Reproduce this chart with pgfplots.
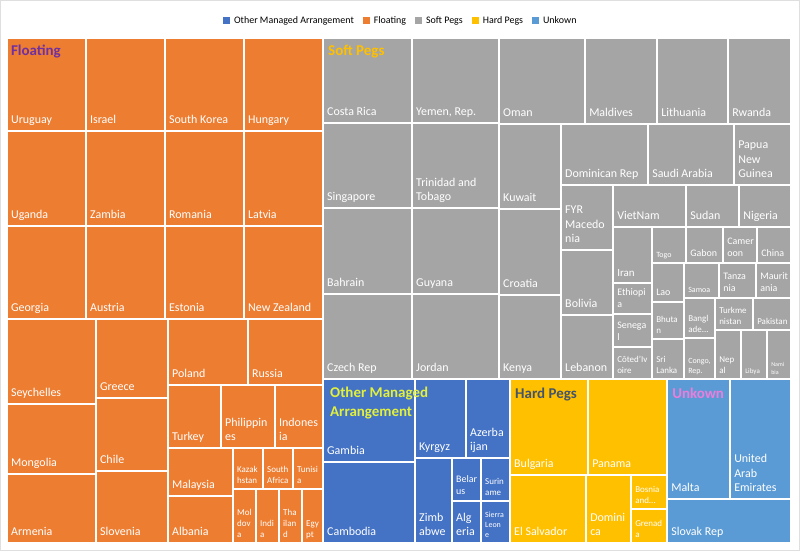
\documentclass[border=0pt]{standalone}
\usepackage{pgfplots}
\pgfplotsset{compat=1.18}
\usepackage{fontspec}
\setmainfont{Carlito}
\definecolor{cFl}{RGB}{237,125,49}
\definecolor{cSp}{RGB}{165,165,165}
\definecolor{cOm}{RGB}{68,114,196}
\definecolor{cHp}{RGB}{255,192,0}
\definecolor{cUk}{RGB}{91,155,213}
\definecolor{tFl}{RGB}{112,48,160}
\definecolor{tSp}{RGB}{255,192,0}
\definecolor{tOm}{RGB}{226,240,60}
\definecolor{tHp}{RGB}{68,84,106}
\definecolor{tUk}{RGB}{236,125,220}
\tikzset{
  f12/.style={font=\fontsize{12}{14.6}\selectfont},
  f11/.style={font=\fontsize{11}{13.4}\selectfont},
  f10/.style={font=\fontsize{10}{12.2}\selectfont},
  f9/.style={font=\fontsize{9}{11}\selectfont},
  f8/.style={font=\fontsize{8}{9.8}\selectfont},
  f7/.style={font=\fontsize{7}{8.5}\selectfont},
  f6/.style={font=\fontsize{6}{7.3}\selectfont},
  ttl/.style={anchor=base west, inner sep=0pt, font=\bfseries\fontsize{15}{18}\selectfont},
}
% color, x0, y0, x1, y1, font style, label
\newcommand{\cell}[7]{%
  \addplot[fill=#1, draw=white, line width=2bp, forget plot] coordinates {(#2,#3) (#4,#3) (#4,#5) (#2,#5)} -- cycle;
  \node[anchor=south west, inner sep=0pt, xshift=4bp, yshift=2.5bp, text=white, align=left, #6] at (axis cs:#2,#5) {#7\strut};
}
\begin{document}
\begin{tikzpicture}
\begin{axis}[
  width=800bp, height=551bp, scale only axis,
  xmin=0, xmax=800, ymin=0, ymax=551, y dir=reverse,
  hide axis, clip=false,
  legend image code/.code={\path[#1, draw=none] (0bp,-3.5bp) rectangle (7bp,3.5bp); \path[draw=none, fill=none] (0bp,0bp) -- (9bp,0bp);},
  legend style={at={(0.501,0.962)}, anchor=center, draw=none, fill=none,
    legend columns=-1, font=\fontsize{10}{12}\selectfont,
    /tikz/every even column/.append style={column sep=7bp}},
]
\addplot[fill=white, draw=gray!25, line width=0.8bp, forget plot] coordinates {(0.5,0.5) (799.5,0.5) (799.5,550.5) (0.5,550.5)} -- cycle;
\addlegendimage{fill=cOm}\addlegendentry{Other Managed Arrangement}
\addlegendimage{fill=cFl}\addlegendentry{Floating}
\addlegendimage{fill=cSp}\addlegendentry{Soft Pegs}
\addlegendimage{fill=cHp}\addlegendentry{Hard Pegs}
\addlegendimage{fill=cUk}\addlegendentry{Unkown}
% Floating
\cell{cFl}{7}{38}{86}{131}{f12}{Uruguay}
\cell{cFl}{86}{38}{165}{131}{f12}{Israel}
\cell{cFl}{165}{38}{244}{131}{f12}{South Korea}
\cell{cFl}{244}{38}{323}{131}{f12}{Hungary}
\cell{cFl}{7}{131}{86}{226}{f12}{Uganda}
\cell{cFl}{86}{131}{165}{226}{f12}{Zambia}
\cell{cFl}{165}{131}{244}{226}{f12}{Romania}
\cell{cFl}{244}{131}{323}{226}{f12}{Latvia}
\cell{cFl}{7}{226}{86}{319}{f12}{Georgia}
\cell{cFl}{86}{226}{165}{319}{f12}{Austria}
\cell{cFl}{165}{226}{244}{319}{f12}{Estonia}
\cell{cFl}{244}{226}{323}{319}{f12}{New Zealand}
\cell{cFl}{7}{319}{96}{404}{f12}{Seychelles}
\cell{cFl}{7}{404}{96}{474}{f12}{Mongolia}
\cell{cFl}{7}{474}{96}{543}{f12}{Armenia}
\cell{cFl}{96}{319}{168}{398}{f12}{Greece}
\cell{cFl}{96}{398}{168}{471}{f12}{Chile}
\cell{cFl}{96}{471}{168}{543}{f12}{Slovenia}
\cell{cFl}{168}{319}{248}{385}{f12}{Poland}
\cell{cFl}{248}{319}{323}{385}{f12}{Russia}
\cell{cFl}{168}{385}{221}{448}{f12}{Turkey}
\cell{cFl}{221}{385}{275}{448}{f12}{Philippin\\es}
\cell{cFl}{275}{385}{323}{448}{f12}{Indones\\ia}
\cell{cFl}{168}{448}{233}{496}{f12}{Malaysia}
\cell{cFl}{168}{496}{233}{543}{f12}{Albania}
\cell{cFl}{233}{448}{263}{489}{f9}{Kazak\\hstan}
\cell{cFl}{263}{448}{293}{489}{f9}{South\\Africa}
\cell{cFl}{293}{448}{323}{489}{f9}{Tunisi\\a}
\cell{cFl}{233}{489}{256}{543}{f9}{Mol\\dov\\a}
\cell{cFl}{256}{489}{279}{543}{f9}{Indi\\a}
\cell{cFl}{279}{489}{302}{543}{f9}{Tha\\ilan\\d}
\cell{cFl}{302}{489}{323}{543}{f9}{Egy\\pt}
% Soft Pegs
\cell{cSp}{323}{38}{412}{123}{f12}{Costa Rica}
\cell{cSp}{412}{38}{499}{123}{f12}{Yemen, Rep.}
\cell{cSp}{323}{123}{412}{208}{f12}{Singapore}
\cell{cSp}{412}{123}{499}{208}{f12}{Trinidad and\\Tobago}
\cell{cSp}{323}{208}{412}{294}{f12}{Bahrain}
\cell{cSp}{412}{208}{499}{294}{f12}{Guyana}
\cell{cSp}{323}{294}{412}{379}{f12}{Czech Rep}
\cell{cSp}{412}{294}{499}{379}{f12}{Jordan}
\cell{cSp}{499}{38}{585}{124}{f12}{Oman}
\cell{cSp}{585}{38}{657}{124}{f12}{Maldives}
\cell{cSp}{657}{38}{728}{124}{f12}{Lithuania}
\cell{cSp}{728}{38}{791}{124}{f12}{Rwanda}
\cell{cSp}{499}{124}{561}{209}{f12}{Kuwait}
\cell{cSp}{499}{209}{561}{295}{f12}{Croatia}
\cell{cSp}{499}{295}{561}{379}{f12}{Kenya}
\cell{cSp}{561}{124}{648}{185}{f12}{Dominican Rep}
\cell{cSp}{648}{124}{734}{185}{f12}{Saudi Arabia}
\cell{cSp}{734}{124}{791}{185}{f12}{Papua\\New\\Guinea}
\cell{cSp}{561}{185}{613}{250}{f12}{FYR\\Macedo\\nia}
\cell{cSp}{561}{250}{613}{315}{f12}{Bolivia}
\cell{cSp}{561}{315}{613}{379}{f12}{Lebanon}
\cell{cSp}{613}{185}{686}{227}{f12}{VietNam}
\cell{cSp}{686}{185}{739}{227}{f12}{Sudan}
\cell{cSp}{739}{185}{791}{227}{f12}{Nigeria}
\cell{cSp}{613}{227}{652}{283}{f11}{Iran}
\cell{cSp}{613}{283}{652}{314}{f10}{Ethiopi\\a}
\cell{cSp}{613}{314}{652}{347}{f10}{Senega\\l}
\cell{cSp}{613}{347}{652}{379}{f9}{Côted'Iv\\oire}
\cell{cSp}{652}{227}{686}{263}{f8}{Togo}
\cell{cSp}{652}{263}{684}{302}{f10}{Lao}
\cell{cSp}{652}{302}{684}{339}{f9}{Bhuta\\n}
\cell{cSp}{652}{339}{684}{379}{f9}{Sri\\Lanka}
\cell{cSp}{686}{227}{723}{263}{f10}{Gabon}
\cell{cSp}{723}{227}{757}{263}{f10}{Camer\\oon}
\cell{cSp}{757}{227}{791}{263}{f10}{China}
\cell{cSp}{684}{263}{719}{298}{f8}{Samoa}
\cell{cSp}{719}{263}{756}{298}{f10}{Tanza\\nia}
\cell{cSp}{756}{263}{791}{298}{f10}{Maurit\\ania}
\cell{cSp}{684}{298}{715}{338}{f9}{Bangl\\ade...}
\cell{cSp}{715}{298}{753}{330}{f9}{Turkme\\nistan}
\cell{cSp}{753}{298}{791}{330}{f9}{Pakistan}
\cell{cSp}{684}{338}{715}{379}{f8}{Congo,\\Rep.}
\cell{cSp}{715}{330}{741}{379}{f9}{Nep\\al}
\cell{cSp}{741}{330}{767}{379}{f7}{Libya}
\cell{cSp}{767}{330}{791}{379}{f6}{Nami\\bia}
% Other Managed Arrangement
\cell{cOm}{323}{379}{415}{462}{f12}{Gambia}
\cell{cOm}{323}{462}{415}{543}{f12}{Cambodia}
\cell{cOm}{415}{379}{466}{458}{f12}{Kyrgyz}
\cell{cOm}{466}{379}{510}{458}{f12}{Azerba\\ijan}
\cell{cOm}{415}{458}{452}{543}{f12}{Zimb\\abwe}
\cell{cOm}{452}{458}{481}{501}{f10}{Belar\\us}
\cell{cOm}{481}{458}{510}{501}{f9}{Surin\\ame}
\cell{cOm}{452}{501}{481}{543}{f12}{Alg\\eria}
\cell{cOm}{481}{501}{510}{543}{f8}{Sierra\\Leon\\e}
% Hard Pegs
\cell{cHp}{510}{379}{588}{475}{f12}{Bulgaria}
\cell{cHp}{588}{379}{667}{475}{f12}{Panama}
\cell{cHp}{510}{475}{586}{543}{f12}{El Salvador}
\cell{cHp}{586}{475}{631}{543}{f12}{Domini\\ca}
\cell{cHp}{631}{475}{667}{509}{f9}{Bosnia\\and...}
\cell{cHp}{631}{509}{667}{543}{f9}{Grenad\\a}
% Unkown
\cell{cUk}{667}{379}{730}{499}{f12}{Malta}
\cell{cUk}{730}{379}{791}{499}{f12}{United\\Arab\\Emirates}
\cell{cUk}{667}{499}{791}{543}{f12}{Slovak Rep}
% group titles
\node[ttl, text=tFl] at (axis cs:11,56) {Floating};
\node[ttl, text=tSp] at (axis cs:328,56) {Soft Pegs};
\node[ttl, text=tOm] at (axis cs:330,397) {Other Managed};
\node[ttl, text=tOm] at (axis cs:330,416) {Arrangement};
\node[ttl, text=tHp] at (axis cs:515,398) {Hard Pegs};
\node[ttl, text=tUk] at (axis cs:672,398) {Unkown};
\end{axis}
\end{tikzpicture}
\end{document}
